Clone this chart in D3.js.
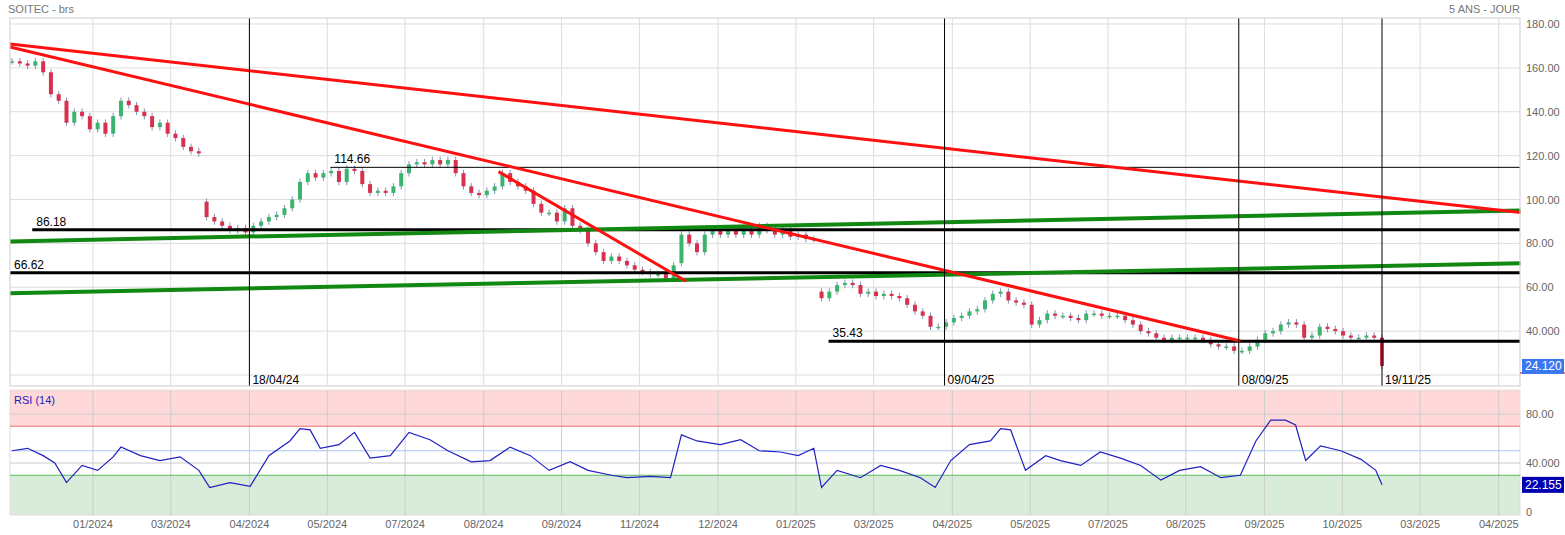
<!DOCTYPE html>
<html><head><meta charset="utf-8">
<script src="https://cdn.jsdelivr.net/npm/d3@7"></script>
<style>body{margin:0;background:#fff}text{font-family:Arial,"Liberation Sans",sans-serif}</style>
</head><body>
<svg id="c" width="1565" height="535"></svg>
<script>
const closes=[163,162,161,163,158,148,145,135,140,138,132,135,130,138,145,143,140,138,133,135,130,128,124,122,121,
92,90,88,86,87,85,88,90,92,93,96,100,108,112,110,112,113,108,114,113,107,103,104,103,106,112,116,117,116,118,116,118,112,106,103,102,104,106,112,108,106,104,98,94,94,90,96,88,86,80,76,72,74,72,70,68,67,66,66,64,70,84,80,76,84,86,84,86,84,86,84,88,86,84,86,83,84,82,82,
55,58,61,62,61,57,58,56,57,56,55,52,49,47,42,42,44,46,47,49,50,54,57,58,54,53,52,43,45,48,47,47,46,45,48,48,47,47,47,45,43,40,39,37,36,37,37,37,37,36,34,33,33,31,31,33,36,39,40,43,44,43,37,38,42,41,40,38,37,37,38,37,24.12];
const gapOpens={25:99,104:58,86:71,176:37};
const rsiDay=[0,2,4,5.5,7,9,11,13,14,16.5,19,21.6,24,25.4,28,30.6,33,35.7,37,38.3,39.6,42,44,46,48.6,51,53.7,56,59,61.4,64,66.6,69,71.7,74,77,79,82,84.6,86,88,91,93.6,96,98.7,101,103,104,106,109,111.6,114,116.7,118.6,120.6,123,125.7,127,128.3,130.2,132.8,134.7,137.3,139.8,142.4,145,147.6,150,152.7,155.3,157.8,159.8,161.7,163.6,164.9,166.2,168.1,170.7,173.3,175.2,176];
const rsiVal=[50,52,46,40,24,38,34,45,53,46,42,45,34,20,24,21,46,58,68,67,52,55,65,44,46,65,59,50,41,42,53,46,34,41,34,30,28,29,28,63,58,55,59,50,49,46,52,20,34,28,38,34,28,20,42,55,58,68,67,34,46,42,38,49,44,38,26,34,37,28,30,58,75,75,71,42,54,50,43,34,22.155];
const tickDays=[10.4,20.4,30.5,40.5,50.5,60.6,70.6,80.6,90.7,100.7,110.7,120.8,130.8,140.8,150.8,160.9,170.9,180.9,191];
const tickLabels=["01/2024","03/2024","04/2024","05/2024","07/2024","08/2024","09/2024","11/2024","12/2024","01/2025","03/2025","04/2025","05/2025","07/2025","08/2025","09/2025","10/2025","03/2025","04/2025"];
const priceTicks=[20,40,60,80,100,120,140,160,180];
const priceLabels=["20.000","40.000","60.00","80.00","100.00","120.00","140.00","160.00","180.00"];
const redLines=[[-0.26,170.9,193.8,94.1],[-0.26,169.5,157.8,35.5],[62.5,112.7,86.6,62.7]];
const greenLines=[[-0.26,80.9,193.8,95.0],[-0.26,57.3,193.8,70.9]];
const levels=[{v:86.18,d0:2.6,w:3},{v:66.62,d0:-0.26,w:3},{v:114.66,d0:40.9,w:1},{v:35.43,d0:104.9,w:3}];
const events=[{d:30.5,l:"18/04/24"},{d:119.8,l:"09/04/25"},{d:157.6,l:"08/09/25"},{d:176,l:"19/11/25"}];

const svg=d3.select("#c");
const L=10,R=1520,T=18,B=386,RT=391,RB=515;
const x=d3.scaleLinear().domain([0,176]).range([12,1382]);
const y=d3.scaleLinear().domain([20,180]).range([375,24]);
const ry=d3.scaleLinear().domain([0,100]).range([512,389.5]);

svg.append("text").attr("x",8).attr("y",13).attr("font-size",11).attr("fill","#777").text("SOITEC - brs");
svg.append("text").attr("x",R).attr("y",13).attr("text-anchor","end").attr("font-size",11).attr("fill","#777").text("5 ANS - JOUR");

const gm=svg.append("g");
gm.append("rect").attr("x",L).attr("y",T).attr("width",R-L).attr("height",B-T).attr("fill","#fff").attr("stroke","#ddd");
priceTicks.forEach(v=>gm.append("line").attr("x1",L).attr("x2",R).attr("y1",y(v)).attr("y2",y(v)).attr("stroke","#ddd"));
tickDays.forEach(d=>gm.append("line").attr("x1",x(d)).attr("x2",x(d)).attr("y1",T).attr("y2",B).attr("stroke","#ddd"));
priceTicks.forEach((v,i)=>{ if(v>20) svg.append("text").attr("x",1526).attr("y",y(v)+4).attr("font-size",11).attr("fill","#666").text(priceLabels[i]);});

const gr=svg.append("g");
gr.append("rect").attr("x",L).attr("y",ry(100)).attr("width",R-L).attr("height",ry(70)-ry(100)).attr("fill","#ffd9d9");
gr.append("rect").attr("x",L).attr("y",ry(30)).attr("width",R-L).attr("height",RB-ry(30)).attr("fill","#d9ecd9");
gr.append("rect").attr("x",L).attr("y",RT).attr("width",R-L).attr("height",RB-RT).attr("fill","none").attr("stroke","#ddd");
[40,80].forEach(v=>gr.append("line").attr("x1",L).attr("x2",R).attr("y1",ry(v)).attr("y2",ry(v)).attr("stroke","#ccc"));
tickDays.forEach(d=>gr.append("line").attr("x1",x(d)).attr("x2",x(d)).attr("y1",RT).attr("y2",RB).attr("stroke","#ccc"));
gr.append("line").attr("x1",L).attr("x2",R).attr("y1",ry(70)).attr("y2",ry(70)).attr("stroke","#f07070");
gr.append("line").attr("x1",L).attr("x2",R).attr("y1",ry(30)).attr("y2",ry(30)).attr("stroke","#5cb85c");
gr.append("line").attr("x1",L).attr("x2",R).attr("y1",ry(50)).attr("y2",ry(50)).attr("stroke","#a8c4ee");
[[80,"80.00"],[40,"40.000"],[0,"0"]].forEach(([v,t])=>svg.append("text").attr("x",1526).attr("y",ry(v)+4).attr("font-size",11).attr("fill","#666").text(t));
gr.append("path").datum(rsiDay.map((d,i)=>[d,rsiVal[i]])).attr("fill","none").attr("stroke","#2020c0").attr("stroke-width",1.2)
 .attr("d",d3.line().x(d=>x(d[0])).y(d=>ry(d[1])));
gr.append("rect").attr("x",11).attr("y",392).attr("width",52).attr("height",15).attr("fill","#ffd9d9");
gr.append("text").attr("x",14).attr("y",404).attr("font-size",11).attr("fill","#2020c0").text("RSI (14)");

tickDays.forEach((d,i)=>svg.append("text").attr("x",x(d)).attr("y",528).attr("text-anchor","middle").attr("font-size",11).attr("fill","#666").text(tickLabels[i]));

const gc=svg.append("g");
closes.forEach((c,i)=>{
  const o=gapOpens[i]!==undefined?gapOpens[i]:(i?closes[i-1]:c);
  const hi=Math.max(o,c)+1.5, lo=Math.min(o,c)-1.5;
  const up=c>=o;
  gc.append("line").attr("x1",x(i)).attr("x2",x(i)).attr("y1",y(hi)).attr("y2",y(lo)).attr("stroke","#7f95b3");
  const h=Math.max(1.5,Math.abs(y(o)-y(c)));
  gc.append("rect").attr("x",x(i)-2).attr("width",4).attr("y",Math.min(y(o),y(c))).attr("height",h).attr("fill",up?"#3cb46e":"#d8304f");
});

levels.forEach(l=>{
  svg.append("line").attr("x1",x(l.d0)).attr("x2",R).attr("y1",y(l.v)).attr("y2",y(l.v)).attr("stroke","#000").attr("stroke-width",l.w);
  svg.append("text").attr("x",x(l.d0)+4).attr("y",y(l.v)-4).attr("font-size",12).attr("fill","#000").text(l.v.toFixed(2));
});
greenLines.forEach(l=>svg.append("line").attr("x1",x(l[0])).attr("y1",y(l[1])).attr("x2",x(l[2])).attr("y2",y(l[3])).attr("stroke","#118811").attr("stroke-width",4));
redLines.forEach(l=>svg.append("line").attr("x1",x(l[0])).attr("y1",y(l[1])).attr("x2",x(l[2])).attr("y2",y(l[3])).attr("stroke","#ff1010").attr("stroke-width",3));
events.forEach(e=>{
  svg.append("line").attr("x1",x(e.d)).attr("x2",x(e.d)).attr("y1",T).attr("y2",B).attr("stroke","#000");
  svg.append("text").attr("x",x(e.d)+3).attr("y",384).attr("font-size",12).attr("fill","#000").text(e.l);
});
svg.append("rect").attr("x",L).attr("y",T).attr("width",R-L).attr("height",B-T).attr("fill","none").attr("stroke","#ddd");

const last=closes[closes.length-1];
svg.append("line").attr("x1",R).attr("x2",1565).attr("y1",y(last)+7).attr("y2",y(last)+7).attr("stroke","#d00");
svg.append("rect").attr("x",1522).attr("y",y(last)-7).attr("width",42).attr("height",15).attr("fill","#3a78f2");
svg.append("text").attr("x",1525).attr("y",y(last)+4.5).attr("font-size",12).attr("fill","#fff").text(last.toFixed(3));
const lr=rsiVal[rsiVal.length-1];
svg.append("rect").attr("x",1522).attr("y",ry(lr)-8).attr("width",42).attr("height",16).attr("fill","#0000b0");
svg.append("text").attr("x",1525).attr("y",ry(lr)+4.5).attr("font-size",12).attr("fill","#fff").text(lr.toFixed(3));
</script></body></html>
